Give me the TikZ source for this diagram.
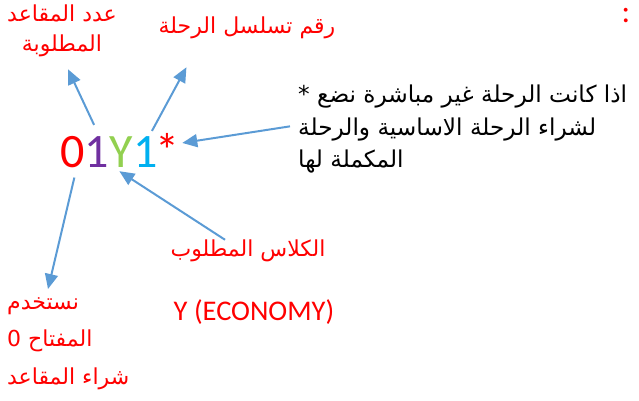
\documentclass[tikz,border=0pt]{standalone}
\usepackage{fontspec}
\setmainfont{Carlito}
\newfontfamily\arabicfont[Script=Arabic]{DejaVu Sans}
\TeXXeTstate=1
\usetikzlibrary{arrows.meta,positioning}
\definecolor{arrblue}{HTML}{5B9BD5}
\definecolor{codepurple}{HTML}{7030A0}
\definecolor{codegreen}{HTML}{92D050}
\definecolor{codecyan}{HTML}{00B0F0}
\tikzset{
	arr/.style={draw=arrblue,line width=2pt,-{Triangle[length=15pt,width=13pt]}},
	redlbl/.style={text=red,inner sep=0pt,font=\arabicfont\fontsize{22}{30}\selectfont},
	note/.style={text=black,inner sep=0pt,align=left,font=\arabicfont\fontsize{23.2}{32.5}\selectfont},
	glyph/.style={inner sep=0pt,anchor=base west,font=\fontsize{48}{48}\selectfont}
}

\begin{document}
\begin{tikzpicture}[x=1pt,y=-1pt]
	\useasboundingbox (0,0) rectangle (639,400);

	% the code
	\node [glyph,text=red] (d0) at (60,167) {0};
	\node [glyph,text=codepurple] (d1) at (d0.base east) {1};
	\node [glyph,text=codegreen] (dY) at (d1.base east) {Y};
	\node [glyph,text=codecyan] (d2) at (dY.base east) {1};
	\node [glyph,text=red,xshift=-3pt] (star) at (d2.base east) {*};

	% labels
	\node [redlbl,align=center] (seats) at (62,31) {\beginR عدد المقاعد\endR\\\beginR المطلوبة\endR};
	\node [redlbl] (serial) at (247,28) {\beginR رقم تسلسل الرحلة\endR};
	\node [note,anchor=north west] (indirect) at (298,85) {\beginR اذا كانت الرحلة غير مباشرة نضع *\endR\\\beginR لشراء الرحلة الاساسية والرحلة\endR\\\beginR المكملة لها\endR};
	\node [redlbl] (class) at (248,251) {\beginR الكلاس المطلوب\endR};
	\node [text=red,inner sep=0pt,font=\fontsize{28.5}{28}\selectfont] (economy) at (254,312) {Y (ECONOMY)};
	\node [redlbl,anchor=north west,align=left,font=\arabicfont\fontsize{22}{37.5}\selectfont] (key) at (7,297) {\beginR نستخدم\endR\\\beginR المفتاح 0\endR\\\beginR شراء المقاعد\endR};
	\node [text=red,inner sep=0pt,anchor=base,font=\fontsize{32}{32}\selectfont] (colon) at (626,22) {:};

	% arrows
	\draw [arr] ([xshift=-3pt,yshift=11pt]d1.north) -- ([xshift=6pt,yshift=-12pt]seats.south);
	\draw [arr] ([xshift=-6pt,yshift=5pt]d2.north east) -- ([xshift=28pt,yshift=-28pt]serial.south west);
	\draw [arr] ([xshift=-8pt,yshift=3pt]indirect.west) -- ([xshift=3pt,yshift=7pt]star.east);
	\draw [arr] ([xshift=-23pt]class.north) -- ([xshift=-2pt,yshift=-4pt]dY.south);
	\draw [arr] ([xshift=2pt,yshift=-10pt]d0.south) -- ([xshift=41pt,yshift=8pt]key.north west);
\end{tikzpicture}
\end{document}
